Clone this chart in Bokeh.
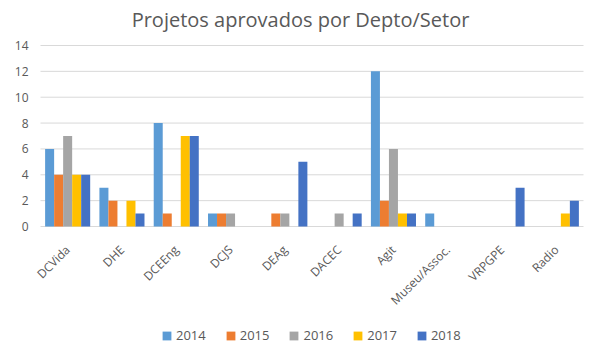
from bokeh.plotting import figure
from bokeh.models import (FactorRange, Range1d, FixedTicker, Legend, LegendItem,
                          ColumnDataSource, Label)
from bokeh.transform import dodge
from bokeh.embed import file_html
from bokeh.resources import INLINE

title = "Projetos aprovados por Depto/Setor"
categories = ["DCVida", "DHE", "DCEEng", "DCJS", "DEAg", "DACEC", "Agit",
              "Museu/Assoc.", "VRPGPE", "Radio"]
years = ["2014", "2015", "2016", "2017", "2018"]
v2014 = [6, 3, 8, 1, 0, 0, 12, 1, 0, 0]
v2015 = [4, 2, 1, 1, 1, 0, 2, 0, 0, 0]
v2016 = [7, 0, 0, 1, 1, 1, 6, 0, 0, 0]
v2017 = [4, 2, 7, 0, 0, 0, 1, 0, 0, 1]
v2018 = [4, 1, 7, 0, 5, 1, 1, 0, 3, 2]
y_ticks = [0, 2, 4, 6, 8, 10, 12, 14]
colors = ["#5B9BD5", "#ED7D31", "#A5A5A5", "#FFC000", "#4472C4"]

source = ColumnDataSource(dict(cat=categories, y2014=v2014, y2015=v2015,
                               y2016=v2016, y2017=v2017, y2018=v2018))
grid = ColumnDataSource(dict(y=y_ticks, first=[categories[0]] * len(y_ticks),
                             last=[categories[-1]] * len(y_ticks)))

FONT = "Open Sans"
GREY = "#595959"

# layout (pixels): value axis 0..14 spans 181 px, its top 45 px below the
# canvas top; the frame covers the whole height so that title, category
# labels and legend sit inside it.
cat_px = 54.3
pad_px = 10
plot_h = 352
axis_top = 45
axis_px = 181
ymax = 14
ppu = axis_px / ymax
y_hi = ymax + axis_top / ppu
y_lo = -(plot_h - axis_top - axis_px) / ppu

p = figure(x_range=FactorRange(factors=categories,
                               range_padding=pad_px / cat_px,
                               range_padding_units="absolute"),
           y_range=Range1d(y_lo, y_hi), title=None,
           frame_width=int(10 * cat_px + 2 * pad_px), frame_height=plot_h,
           output_backend="svg", toolbar_location=None,
           min_border_left=30, min_border_right=0,
           min_border_top=0, min_border_bottom=0)

# horizontal grid lines across the category span
p.segment(x0=dodge("first", -0.5, range=p.x_range), y0="y",
          x1=dodge("last", 0.5, range=p.x_range), y1="y",
          source=grid, line_color="#D9D9D9", line_width=1)

bw = 0.166
offsets = [-2 * bw, -bw, 0, bw, 2 * bw]
items = []
for yr, off, col in zip(years, offsets, colors):
    r = p.vbar(x=dodge("cat", off, range=p.x_range), top="y" + yr, bottom=0,
               width=bw, source=source, fill_color=col, line_color=None)
    items.append(LegendItem(label=yr, renderers=[r]))

p.outline_line_color = None
p.background_fill_color = "white"
p.xgrid.grid_line_color = None
p.ygrid.grid_line_color = None

p.yaxis.ticker = FixedTicker(ticks=y_ticks)
p.yaxis.axis_line_color = None
p.yaxis.major_tick_line_color = None
p.yaxis.minor_tick_line_color = None
p.yaxis.major_tick_out = 0
p.yaxis.minor_tick_out = 0
p.yaxis.major_label_text_font = FONT
p.yaxis.major_label_text_font_size = "12px"
p.yaxis.major_label_text_color = GREY
p.yaxis.major_label_standoff = 2

p.xaxis.fixed_location = 0
p.xaxis.axis_line_color = None
p.xaxis.major_tick_line_color = None
p.xaxis.minor_tick_line_color = None
p.xaxis.major_tick_out = 0
p.xaxis.minor_tick_out = 0
p.xaxis.major_label_orientation = 0.785398
p.xaxis.major_label_text_font = FONT
p.xaxis.major_label_text_font_size = "12px"
p.xaxis.major_label_text_color = GREY
p.xaxis.major_label_standoff = 21

title_lbl = Label(x=5 - 11.5 / cat_px, y=ymax + 26 / ppu, text=title,
                  text_font=FONT, text_font_size="20px", text_color=GREY,
                  text_align="center", text_baseline="alphabetic")
p.add_layout(title_lbl)

legend = Legend(items=items, orientation="horizontal",
                location=(131, 8),
                glyph_width=11, glyph_height=11, label_height=11,
                label_text_font=FONT, label_text_baseline="middle",
                label_text_font_size="13px", label_text_color=GREY,
                spacing=19, label_standoff=4, border_line_color=None,
                background_fill_alpha=0, padding=0, margin=0)
p.add_layout(legend, "center")

open("out.html", "w").write(file_html(p, INLINE))
